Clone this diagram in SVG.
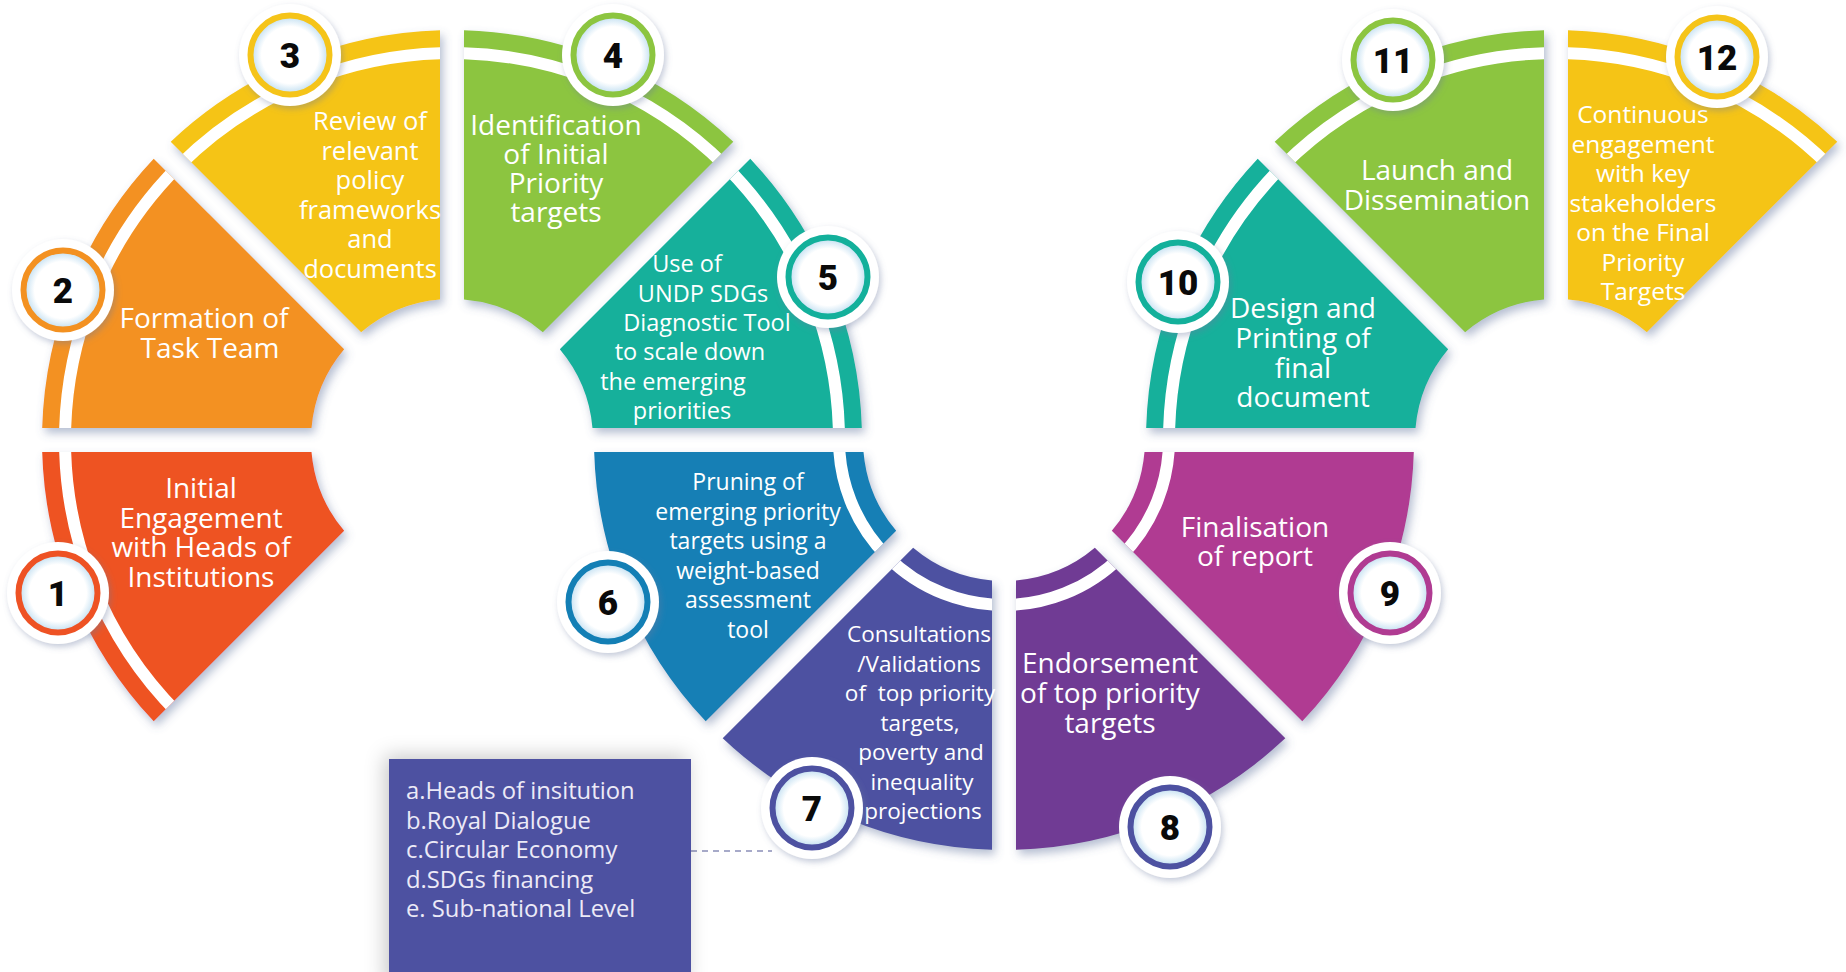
<svg xmlns="http://www.w3.org/2000/svg" xmlns:xlink="http://www.w3.org/1999/xlink" width="1846" height="972" viewBox="0 0 1846 972">
<style>
.lbl{font-family:"Open Sans","Liberation Sans",sans-serif;fill:#ffffff;text-anchor:middle;}
.num{font-family:Roboto,"Liberation Sans",sans-serif;font-weight:900;font-size:35px;fill:#0a0a0a;text-anchor:middle;}
.leg{font-family:"Open Sans","Liberation Sans",sans-serif;font-size:23.8px;fill:#eceaf7;}
.stripe{fill:none;stroke:#ffffff;stroke-width:12;}
.bw{fill:#ffffff;filter:url(#bsh);}
.bi{fill:url(#bg);}
</style>
<defs>
<filter id="sh" x="-10%" y="-10%" width="125%" height="125%">
<feDropShadow dx="3" dy="5" stdDeviation="5" flood-color="#5a6e9a" flood-opacity="0.45"/>
</filter>
<filter id="bsh" x="-30%" y="-30%" width="160%" height="160%">
<feDropShadow dx="2" dy="3" stdDeviation="3" flood-color="#6a7aa0" flood-opacity="0.4"/>
</filter>
<filter id="lsh" x="-20%" y="-20%" width="140%" height="140%">
<feDropShadow dx="-4" dy="-3" stdDeviation="10" flood-color="#000000" flood-opacity="0.22"/>
</filter>
<radialGradient id="bg" cx="0.5" cy="0.5" r="0.5">
<stop offset="0" stop-color="#ffffff"/>
<stop offset="0.72" stop-color="#ffffff"/>
<stop offset="1" stop-color="#bcdcf0"/>
</radialGradient>
<path id="p1" d="M153.73,721.31 A410,410 0 0 1 42.18,452 L311.51,452 A141,141 0 0 0 344.18,530.86 Z"/>
<path id="p2" d="M42.18,428 A410,410 0 0 1 153.73,158.70 L344.18,349.15 A141,141 0 0 0 311.51,428 Z"/>
<path id="p3" d="M170.70,141.73 A410,410 0 0 1 440,30.18 L440,299.51 A141,141 0 0 0 361.15,332.18 Z"/>
<path id="p4" d="M464,30.18 A410,410 0 0 1 733.30,141.73 L542.85,332.18 A141,141 0 0 0 464,299.51 Z"/>
<path id="p5" d="M750.27,158.70 A410,410 0 0 1 861.82,428 L592.49,428 A141,141 0 0 0 559.82,349.15 Z"/>
<path id="p6" d="M705.73,721.31 A410,410 0 0 1 594.18,452 L863.51,452 A141,141 0 0 0 896.18,530.86 Z"/>
<path id="p7" d="M992,849.82 A410,410 0 0 1 722.70,738.27 L913.15,547.82 A141,141 0 0 0 992,580.49 Z"/>
<path id="p8" d="M1285.30,738.27 A410,410 0 0 1 1016,849.82 L1016,580.49 A141,141 0 0 0 1094.85,547.82 Z"/>
<path id="p9" d="M1413.82,452 A410,410 0 0 1 1302.27,721.31 L1111.82,530.86 A141,141 0 0 0 1144.49,452 Z"/>
<path id="p10" d="M1146.18,428 A410,410 0 0 1 1257.73,158.70 L1448.18,349.15 A141,141 0 0 0 1415.51,428 Z"/>
<path id="p11" d="M1274.70,141.73 A410,410 0 0 1 1544,30.18 L1544,299.51 A141,141 0 0 0 1465.15,332.18 Z"/>
<path id="p12" d="M1568,30.18 A410,410 0 0 1 1837.30,141.73 L1646.85,332.18 A141,141 0 0 0 1568,299.51 Z"/>
<clipPath id="c1"><use href="#p1"/></clipPath>
<clipPath id="c2"><use href="#p2"/></clipPath>
<clipPath id="c3"><use href="#p3"/></clipPath>
<clipPath id="c4"><use href="#p4"/></clipPath>
<clipPath id="c5"><use href="#p5"/></clipPath>
<clipPath id="c6"><use href="#p6"/></clipPath>
<clipPath id="c7"><use href="#p7"/></clipPath>
<clipPath id="c8"><use href="#p8"/></clipPath>
<clipPath id="c9"><use href="#p9"/></clipPath>
<clipPath id="c10"><use href="#p10"/></clipPath>
<clipPath id="c11"><use href="#p11"/></clipPath>
<clipPath id="c12"><use href="#p12"/></clipPath>
</defs>
<rect x="0" y="0" width="1846" height="972" fill="#ffffff"/>

<g id="connectors">
<line x1="691" y1="851" x2="772" y2="851" stroke="#8a8fb8" stroke-width="1.4" stroke-dasharray="6 5"/>
</g>

<g id="legend">
<rect x="389" y="759" width="302" height="230" fill="#4d51a1" filter="url(#lsh)"/>
<text class="leg"><tspan x="406" y="799">a.Heads of insitution</tspan><tspan x="406" y="828.5">b.Royal Dialogue</tspan><tspan x="406" y="858">c.Circular Economy</tspan><tspan x="406" y="887.5">d.SDGs financing</tspan><tspan x="406" y="917">e. Sub-national Level</tspan></text>
</g>

<g id="node1">
<use href="#p1" fill="#ee5224" filter="url(#sh)"/>
<circle cx="452" cy="440" r="387" class="stripe" clip-path="url(#c1)"/>
<text class="lbl" font-size="28"><tspan x="201" y="498">Initial</tspan><tspan x="201" y="527.5">Engagement</tspan><tspan x="201" y="557">with Heads of</tspan><tspan x="201" y="586.5">Institutions</tspan></text>
<circle cx="58" cy="593" r="51" class="bw"/><circle cx="58" cy="593" r="39.5" class="bi" stroke="#ee5224" stroke-width="6"/>
<text class="num" x="58" y="605.5">1</text>
</g>

<g id="node2">
<use href="#p2" fill="#f39121" filter="url(#sh)"/>
<circle cx="452" cy="440" r="387" class="stripe" clip-path="url(#c2)"/>
<text class="lbl" font-size="28"><tspan x="204" y="328">Formation of</tspan><tspan x="210" y="357.5">Task Team</tspan></text>
<circle cx="63" cy="290" r="51" class="bw"/><circle cx="63" cy="290" r="39.5" class="bi" stroke="#f39121" stroke-width="6"/>
<text class="num" x="63" y="302.5">2</text>
</g>

<g id="node3">
<use href="#p3" fill="#f5c419" filter="url(#sh)"/>
<circle cx="452" cy="440" r="387" class="stripe" clip-path="url(#c3)"/>
<text class="lbl" font-size="25.5"><tspan x="370" y="130">Review of</tspan><tspan x="370" y="159.5">relevant</tspan><tspan x="370" y="189">policy</tspan><tspan x="370" y="218.5">frameworks</tspan><tspan x="370" y="248">and</tspan><tspan x="370" y="277.5">documents</tspan></text>
<circle cx="290" cy="55" r="51" class="bw"/><circle cx="290" cy="55" r="39.5" class="bi" stroke="#f5c419" stroke-width="6"/>
<text class="num" x="290" y="67.5">3</text>
</g>

<g id="node4">
<use href="#p4" fill="#8cc540" filter="url(#sh)"/>
<circle cx="452" cy="440" r="387" class="stripe" clip-path="url(#c4)"/>
<text class="lbl" font-size="28"><tspan x="556" y="135">Identification</tspan><tspan x="556" y="164">of Initial</tspan><tspan x="556" y="193">Priority</tspan><tspan x="556" y="222">targets</tspan></text>
<circle cx="613" cy="55" r="51" class="bw"/><circle cx="613" cy="55" r="39.5" class="bi" stroke="#8cc540" stroke-width="6"/>
<text class="num" x="613" y="67.5">4</text>
</g>

<g id="node5">
<use href="#p5" fill="#13b09b" filter="url(#sh)"/>
<circle cx="452" cy="440" r="387" class="stripe" clip-path="url(#c5)"/>
<text class="lbl" font-size="23.5"><tspan x="687" y="272">Use of</tspan><tspan x="703" y="301.5">UNDP SDGs</tspan><tspan x="707" y="331">Diagnostic Tool</tspan><tspan x="690" y="360">to scale down</tspan><tspan x="673" y="389.5">the emerging</tspan><tspan x="682" y="418.5">priorities</tspan></text>
<circle cx="828" cy="277" r="51" class="bw"/><circle cx="828" cy="277" r="39.5" class="bi" stroke="#13b09b" stroke-width="6"/>
<text class="num" x="828" y="289.5">5</text>
</g>

<g id="node6">
<use href="#p6" fill="#137fb5" filter="url(#sh)"/>
<circle cx="1004" cy="440" r="165" class="stripe" clip-path="url(#c6)"/>
<text class="lbl" font-size="23"><tspan x="748" y="490">Pruning of</tspan><tspan x="748" y="519.5">emerging priority</tspan><tspan x="748" y="549">targets using a</tspan><tspan x="748" y="578.5">weight-based</tspan><tspan x="748" y="608">assessment</tspan><tspan x="748" y="637.5">tool</tspan></text>
<circle cx="608" cy="602" r="51" class="bw"/><circle cx="608" cy="602" r="39.5" class="bi" stroke="#137fb5" stroke-width="6"/>
<text class="num" x="608" y="614.5">6</text>
</g>

<g id="node7">
<use href="#p7" fill="#4d51a1" filter="url(#sh)"/>
<circle cx="1004" cy="440" r="165" class="stripe" clip-path="url(#c7)"/>
<text class="lbl" font-size="22.5" xml:space="preserve"><tspan x="919" y="642">Consultations</tspan><tspan x="919" y="671.5">/Validations</tspan><tspan x="920" y="701">of  top priority</tspan><tspan x="920" y="730.5">targets,</tspan><tspan x="921" y="760">poverty and</tspan><tspan x="922" y="789.5">inequality</tspan><tspan x="923" y="819">projections</tspan></text>
<circle cx="812" cy="808" r="51" class="bw"/><circle cx="812" cy="808" r="39.5" class="bi" stroke="#4d51a1" stroke-width="6"/>
<text class="num" x="812" y="820.5">7</text>
</g>

<g id="node8">
<use href="#p8" fill="#703b94" filter="url(#sh)"/>
<circle cx="1004" cy="440" r="165" class="stripe" clip-path="url(#c8)"/>
<text class="lbl" font-size="28"><tspan x="1110" y="673">Endorsement</tspan><tspan x="1110" y="703">of top priority</tspan><tspan x="1110" y="733">targets</tspan></text>
<circle cx="1170" cy="827" r="51" class="bw"/><circle cx="1170" cy="827" r="39.5" class="bi" stroke="#4d51a1" stroke-width="6"/>
<text class="num" x="1170" y="839.5">8</text>
</g>

<g id="node9">
<use href="#p9" fill="#b03b92" filter="url(#sh)"/>
<circle cx="1004" cy="440" r="165" class="stripe" clip-path="url(#c9)"/>
<text class="lbl" font-size="28"><tspan x="1255" y="537">Finalisation</tspan><tspan x="1255" y="566">of report</tspan></text>
<circle cx="1390" cy="593" r="51" class="bw"/><circle cx="1390" cy="593" r="39.5" class="bi" stroke="#b03b92" stroke-width="6"/>
<text class="num" x="1390" y="605.5">9</text>
</g>

<g id="node10">
<use href="#p10" fill="#13b09b" filter="url(#sh)"/>
<circle cx="1556" cy="440" r="387" class="stripe" clip-path="url(#c10)"/>
<text class="lbl" font-size="28"><tspan x="1303" y="318">Design and</tspan><tspan x="1303" y="348">Printing of</tspan><tspan x="1303" y="377.5">final</tspan><tspan x="1303" y="407">document</tspan></text>
<circle cx="1178" cy="282" r="51" class="bw"/><circle cx="1178" cy="282" r="39.5" class="bi" stroke="#13b09b" stroke-width="6"/>
<text class="num" x="1178" y="294.5">10</text>
</g>

<g id="node11">
<use href="#p11" fill="#8cc540" filter="url(#sh)"/>
<circle cx="1556" cy="440" r="387" class="stripe" clip-path="url(#c11)"/>
<text class="lbl" font-size="28"><tspan x="1437" y="180">Launch and</tspan><tspan x="1437" y="209.5">Dissemination</tspan></text>
<circle cx="1393" cy="60" r="51" class="bw"/><circle cx="1393" cy="60" r="39.5" class="bi" stroke="#8cc540" stroke-width="6"/>
<text class="num" x="1393" y="72.5">11</text>
</g>

<g id="node12">
<use href="#p12" fill="#f5c419" filter="url(#sh)"/>
<circle cx="1556" cy="440" r="387" class="stripe" clip-path="url(#c12)"/>
<text class="lbl" font-size="24.5"><tspan x="1643" y="123">Continuous</tspan><tspan x="1643" y="152.5">engagement</tspan><tspan x="1643" y="182">with key</tspan><tspan x="1643" y="211.5">stakeholders</tspan><tspan x="1643" y="241">on the Final</tspan><tspan x="1643" y="270.5">Priority</tspan><tspan x="1643" y="300">Targets</tspan></text>
<circle cx="1717" cy="57" r="51" class="bw"/><circle cx="1717" cy="57" r="39.5" class="bi" stroke="#f5c419" stroke-width="6"/>
<text class="num" x="1717" y="69.5">12</text>
</g>
</svg>
